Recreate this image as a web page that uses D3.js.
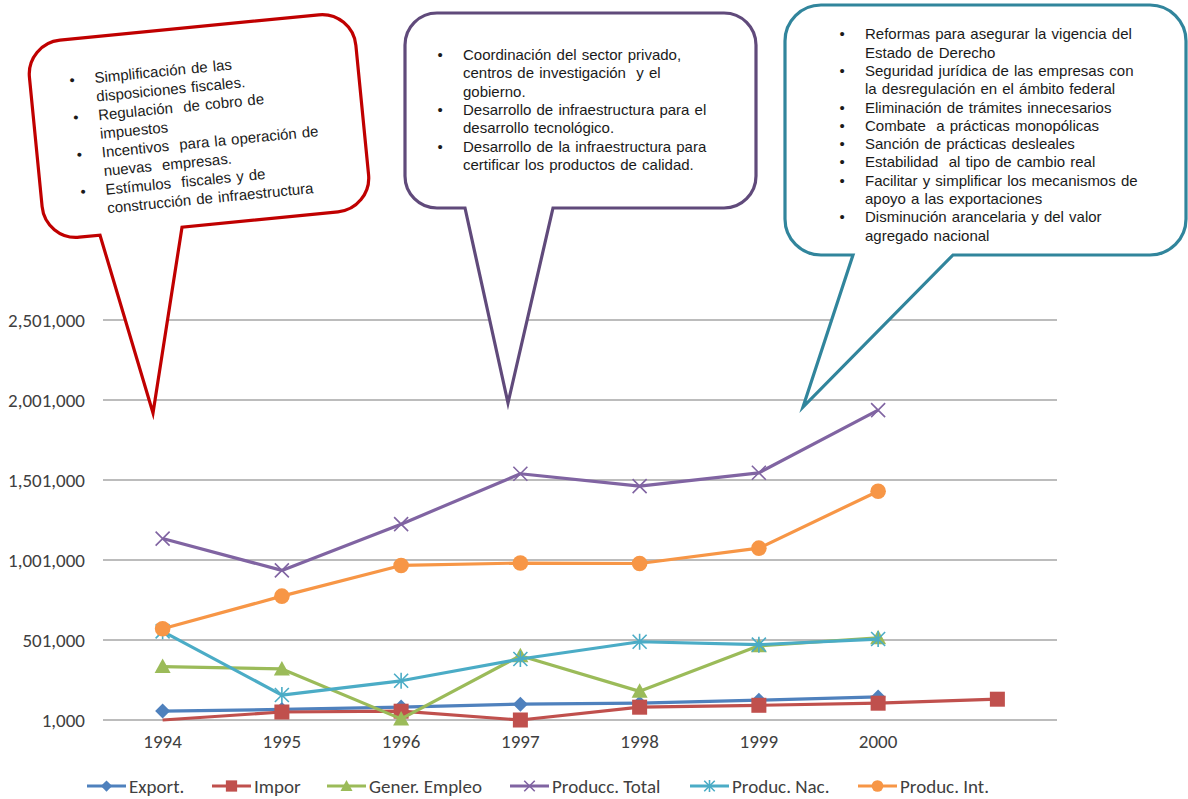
<!DOCTYPE html>
<html>
<head>
<meta charset="utf-8">
<script src="https://cdn.jsdelivr.net/npm/d3@7"></script>
<style>
  html, body { margin: 0; padding: 0; background: #fff; }
  svg { display: block; }
  .axis text, .legend text { font-family: Carlito, Calibri, Lato, "Liberation Sans", sans-serif; fill: #404040; }
  .note text { font-family: "Liberation Sans", Arial, sans-serif; fill: #1a1a1a; white-space: pre; }
</style>
</head>
<body>
<svg id="chart" width="1188" height="799"></svg>
<script>
// ---- data ----
const years = ["1994", "1995", "1996", "1997", "1998", "1999", "2000", ""];
const exportVals  = [57000, 67000, 82000, 100000, 106000, 125000, 145000, null];
const imporVals   = [1000, 51000, 56000, 1000, 81000, 93000, 106000, 131000];
const empleoVals  = [335000, 320000, 8000, 403000, 180000, 465000, 515000, null];
const totalVals   = [1135000, 936000, 1225000, 1540000, 1463000, 1546000, 1938000, null];
const nacVals     = [555000, 157000, 246000, 382000, 490000, 472000, 507000, null];
const intVals     = [571000, 775000, 967000, 982000, 979000, 1075000, 1431000, null];
const yTicks = [1000, 501000, 1001000, 1501000, 2001000, 2501000];
const imporNoMarker = [0];

const seriesNames = ["Export.", "Impor", "Gener. Empleo", "Producc. Total", "Produc. Nac.", "Produc. Int."];
const seriesColors = ["#4F81BD", "#C0504D", "#9BBB59", "#8064A2", "#4BACC6", "#F79646"];
const seriesMarkers = ["diamond", "square", "triangle", "x", "star", "circle"];
const seriesValues = [exportVals, imporVals, empleoVals, totalVals, nacVals, intVals];

// callout texts
const noteRed = [
  "Simplificación de las", "disposiciones fiscales.", "Regulación  de cobro de", "impuestos",
  "Incentivos  para la operación de", "nuevas  empresas.", "Estímulos  fiscales y de", "construcción de infraestructura"
];
const noteRedBullets = [0, 2, 4, 6];
const notePurple = [
  "Coordinación del sector privado,", "centros de investigación  y el", "gobierno.",
  "Desarrollo de infraestructura para el", "desarrollo tecnológico.",
  "Desarrollo de la infraestructura para", "certificar los productos de calidad."
];
const notePurpleBullets = [0, 3, 5];
const noteTeal = [
  "Reformas para asegurar la vigencia del", "Estado de Derecho",
  "Seguridad jurídica de las empresas con", "la desregulación en el ámbito federal",
  "Eliminación de trámites innecesarios", "Combate  a prácticas monopólicas",
  "Sanción de prácticas desleales", "Estabilidad  al tipo de cambio real",
  "Facilitar y simplificar los mecanismos de", "apoyo a las exportaciones",
  "Disminución arancelaria y del valor", "agregado nacional"
];
const noteTealBullets = [0, 2, 4, 5, 6, 7, 8, 10];

// ---- layout ----
const svg = d3.select("#chart");
const plot = { left: 103, right: 1057, top: 320, bottom: 720 };

const x = d3.scaleBand().domain(d3.range(years.length)).range([plot.left, plot.right]);
const y = d3.scaleLinear().domain([1000, 2501000]).range([plot.bottom, plot.top]);
const cx = i => x(i) + x.bandwidth() / 2;

// gridlines
svg.append("g").selectAll("line").data(yTicks).join("line")
  .attr("x1", plot.left).attr("x2", plot.right)
  .attr("y1", d => y(d)).attr("y2", d => y(d))
  .attr("stroke", "#A6A6A6").attr("stroke-width", 1.3);

// y axis labels
const yAxis = svg.append("g").attr("class", "axis")
  .attr("transform", `translate(${plot.left - 18},0)`)
  .call(d3.axisLeft(y).tickValues(yTicks).tickFormat(d3.format(",")).tickSize(0).tickPadding(0));
yAxis.select(".domain").remove();
yAxis.selectAll("text").attr("font-size", 19).attr("fill", "#404040");

// x axis labels
const xAxis = svg.append("g").attr("class", "axis")
  .attr("transform", `translate(0,${plot.bottom})`)
  .call(d3.axisBottom(x).tickFormat(i => years[i]).tickSize(0).tickPadding(15));
xAxis.select(".domain").remove();
xAxis.selectAll("text").attr("font-size", 19).attr("fill", "#404040");

// marker drawing
function drawMarker(g, type, color, s) {
  const k = s || 1;
  if (type === "diamond") {
    g.append("path").attr("d", `M0,${-7.5*k}L${7.5*k},0L0,${7.5*k}L${-7.5*k},0Z`).attr("fill", color);
  } else if (type === "square") {
    g.append("rect").attr("x", -7.5*k).attr("y", -7.5*k).attr("width", 15*k).attr("height", 15*k).attr("fill", color);
  } else if (type === "triangle") {
    g.append("path").attr("d", `M0,${-8*k}L${8*k},${6.5*k}L${-8*k},${6.5*k}Z`).attr("fill", color);
  } else if (type === "circle") {
    g.append("circle").attr("r", 7.8*k).attr("fill", color);
  } else if (type === "x") {
    g.append("path").attr("d", `M${-7*k},${-7*k}L${7*k},${7*k}M${7*k},${-7*k}L${-7*k},${7*k}`)
      .attr("stroke", color).attr("stroke-width", 1.6).attr("fill", "none");
  } else if (type === "star") {
    g.append("path").attr("d", `M${-7*k},${-7*k}L${7*k},${7*k}M${7*k},${-7*k}L${-7*k},${7*k}M0,${-8*k}L0,${8*k}`)
      .attr("stroke", color).attr("stroke-width", 1.6).attr("fill", "none");
  }
}

// series lines + markers
const line = d3.line().defined(d => d.v !== null).x(d => cx(d.i)).y(d => y(d.v));
seriesValues.forEach((vals, s) => {
  const pts = vals.map((v, i) => ({ i, v }));
  const g = svg.append("g");
  g.append("path").datum(pts).attr("d", line)
    .attr("fill", "none").attr("stroke", seriesColors[s]).attr("stroke-width", 3.2)
    .attr("stroke-linejoin", "round");
  pts.filter(p => p.v !== null && !(s === 1 && imporNoMarker.includes(p.i))).forEach(p => {
    const m = g.append("g").attr("transform", `translate(${cx(p.i)},${y(p.v)})`);
    drawMarker(m, seriesMarkers[s], seriesColors[s]);
  });
});

// legend
const legendX = [87, 212, 327, 510, 690, 858];
const legendY = 786;
const legend = svg.append("g").attr("class", "legend");
seriesNames.forEach((name, s) => {
  const g = legend.append("g").attr("transform", `translate(${legendX[s]},${legendY})`);
  g.append("line").attr("x1", 0).attr("x2", 39).attr("stroke", seriesColors[s]).attr("stroke-width", 3.2);
  const m = g.append("g").attr("transform", "translate(19.5,0)");
  drawMarker(m, seriesMarkers[s], seriesColors[s], 0.75);
  g.append("text").attr("x", 42).attr("dy", "0.35em").attr("font-size", 19).text(name);
});

// callout bubbles
function callout(opt) {
  const a = opt.angle * Math.PI / 180;
  const toLocal = (px, py) => {
    const dx = px - opt.cx, dy = py - opt.cy;
    return [dx * Math.cos(-a) - dy * Math.sin(-a), dx * Math.sin(-a) + dy * Math.cos(-a)];
  };
  const w = opt.w, h = opt.h, r = opt.r;
  const tip = toLocal(opt.tip[0], opt.tip[1]);
  const bL = toLocal(opt.baseL[0], opt.baseL[1])[0];
  const bR = toLocal(opt.baseR[0], opt.baseR[1])[0];
  const p = d3.path();
  p.moveTo(-w/2 + r, -h/2);
  p.lineTo(w/2 - r, -h/2);
  p.arcTo(w/2, -h/2, w/2, -h/2 + r, r);
  p.lineTo(w/2, h/2 - r);
  p.arcTo(w/2, h/2, w/2 - r, h/2, r);
  p.lineTo(bR, h/2);
  p.lineTo(tip[0], tip[1]);
  p.lineTo(bL, h/2);
  p.lineTo(-w/2 + r, h/2);
  p.arcTo(-w/2, h/2, -w/2, h/2 - r, r);
  p.lineTo(-w/2, -h/2 + r);
  p.arcTo(-w/2, -h/2, -w/2 + r, -h/2, r);
  p.closePath();

  const g = svg.append("g").attr("class", "note")
    .attr("transform", `translate(${opt.cx},${opt.cy}) rotate(${opt.angle})`);
  g.append("path").attr("d", p.toString())
    .attr("fill", "#fff").attr("stroke", opt.color).attr("stroke-width", 3.2)
    .attr("stroke-linejoin", "miter").attr("stroke-miterlimit", 20);
  const t0 = toLocal(opt.text[0], opt.text[1]);
  opt.lines.forEach((ln, i) => {
    const ty = t0[1] + i * opt.lineH;
    if (opt.bullets.includes(i)) {
      g.append("text").attr("x", t0[0] + opt.bulletDx).attr("y", ty)
        .attr("text-anchor", "middle").attr("font-size", 15).text("•");
    }
    g.append("text").attr("x", t0[0]).attr("y", ty)
      .attr("font-size", 15).attr("word-spacing", 1).text(ln);
  });
}

callout({
  cx: 199, cy: 126, w: 328, h: 198, r: 34, angle: -5.6, color: "#C00000",
  baseL: [100, 235], baseR: [182, 227], tip: [153, 413],
  text: [95, 83], lineH: 18.7, bulletDx: -22.5, lines: noteRed, bullets: noteRedBullets
});
callout({
  cx: 580.5, cy: 110.5, w: 351, h: 195, r: 32, angle: 0, color: "#604A7B",
  baseL: [465, 208], baseR: [553, 208], tip: [508, 403],
  text: [463, 60], lineH: 18.3, bulletDx: -23, lines: notePurple, bullets: notePurpleBullets
});
callout({
  cx: 985.5, cy: 130, w: 401, h: 250, r: 36, angle: 0, color: "#31859C",
  baseL: [853, 255], baseR: [953, 255], tip: [803, 407],
  text: [865, 39.3], lineH: 18.3, bulletDx: -23, lines: noteTeal, bullets: noteTealBullets
});
</script>
</body>
</html>
